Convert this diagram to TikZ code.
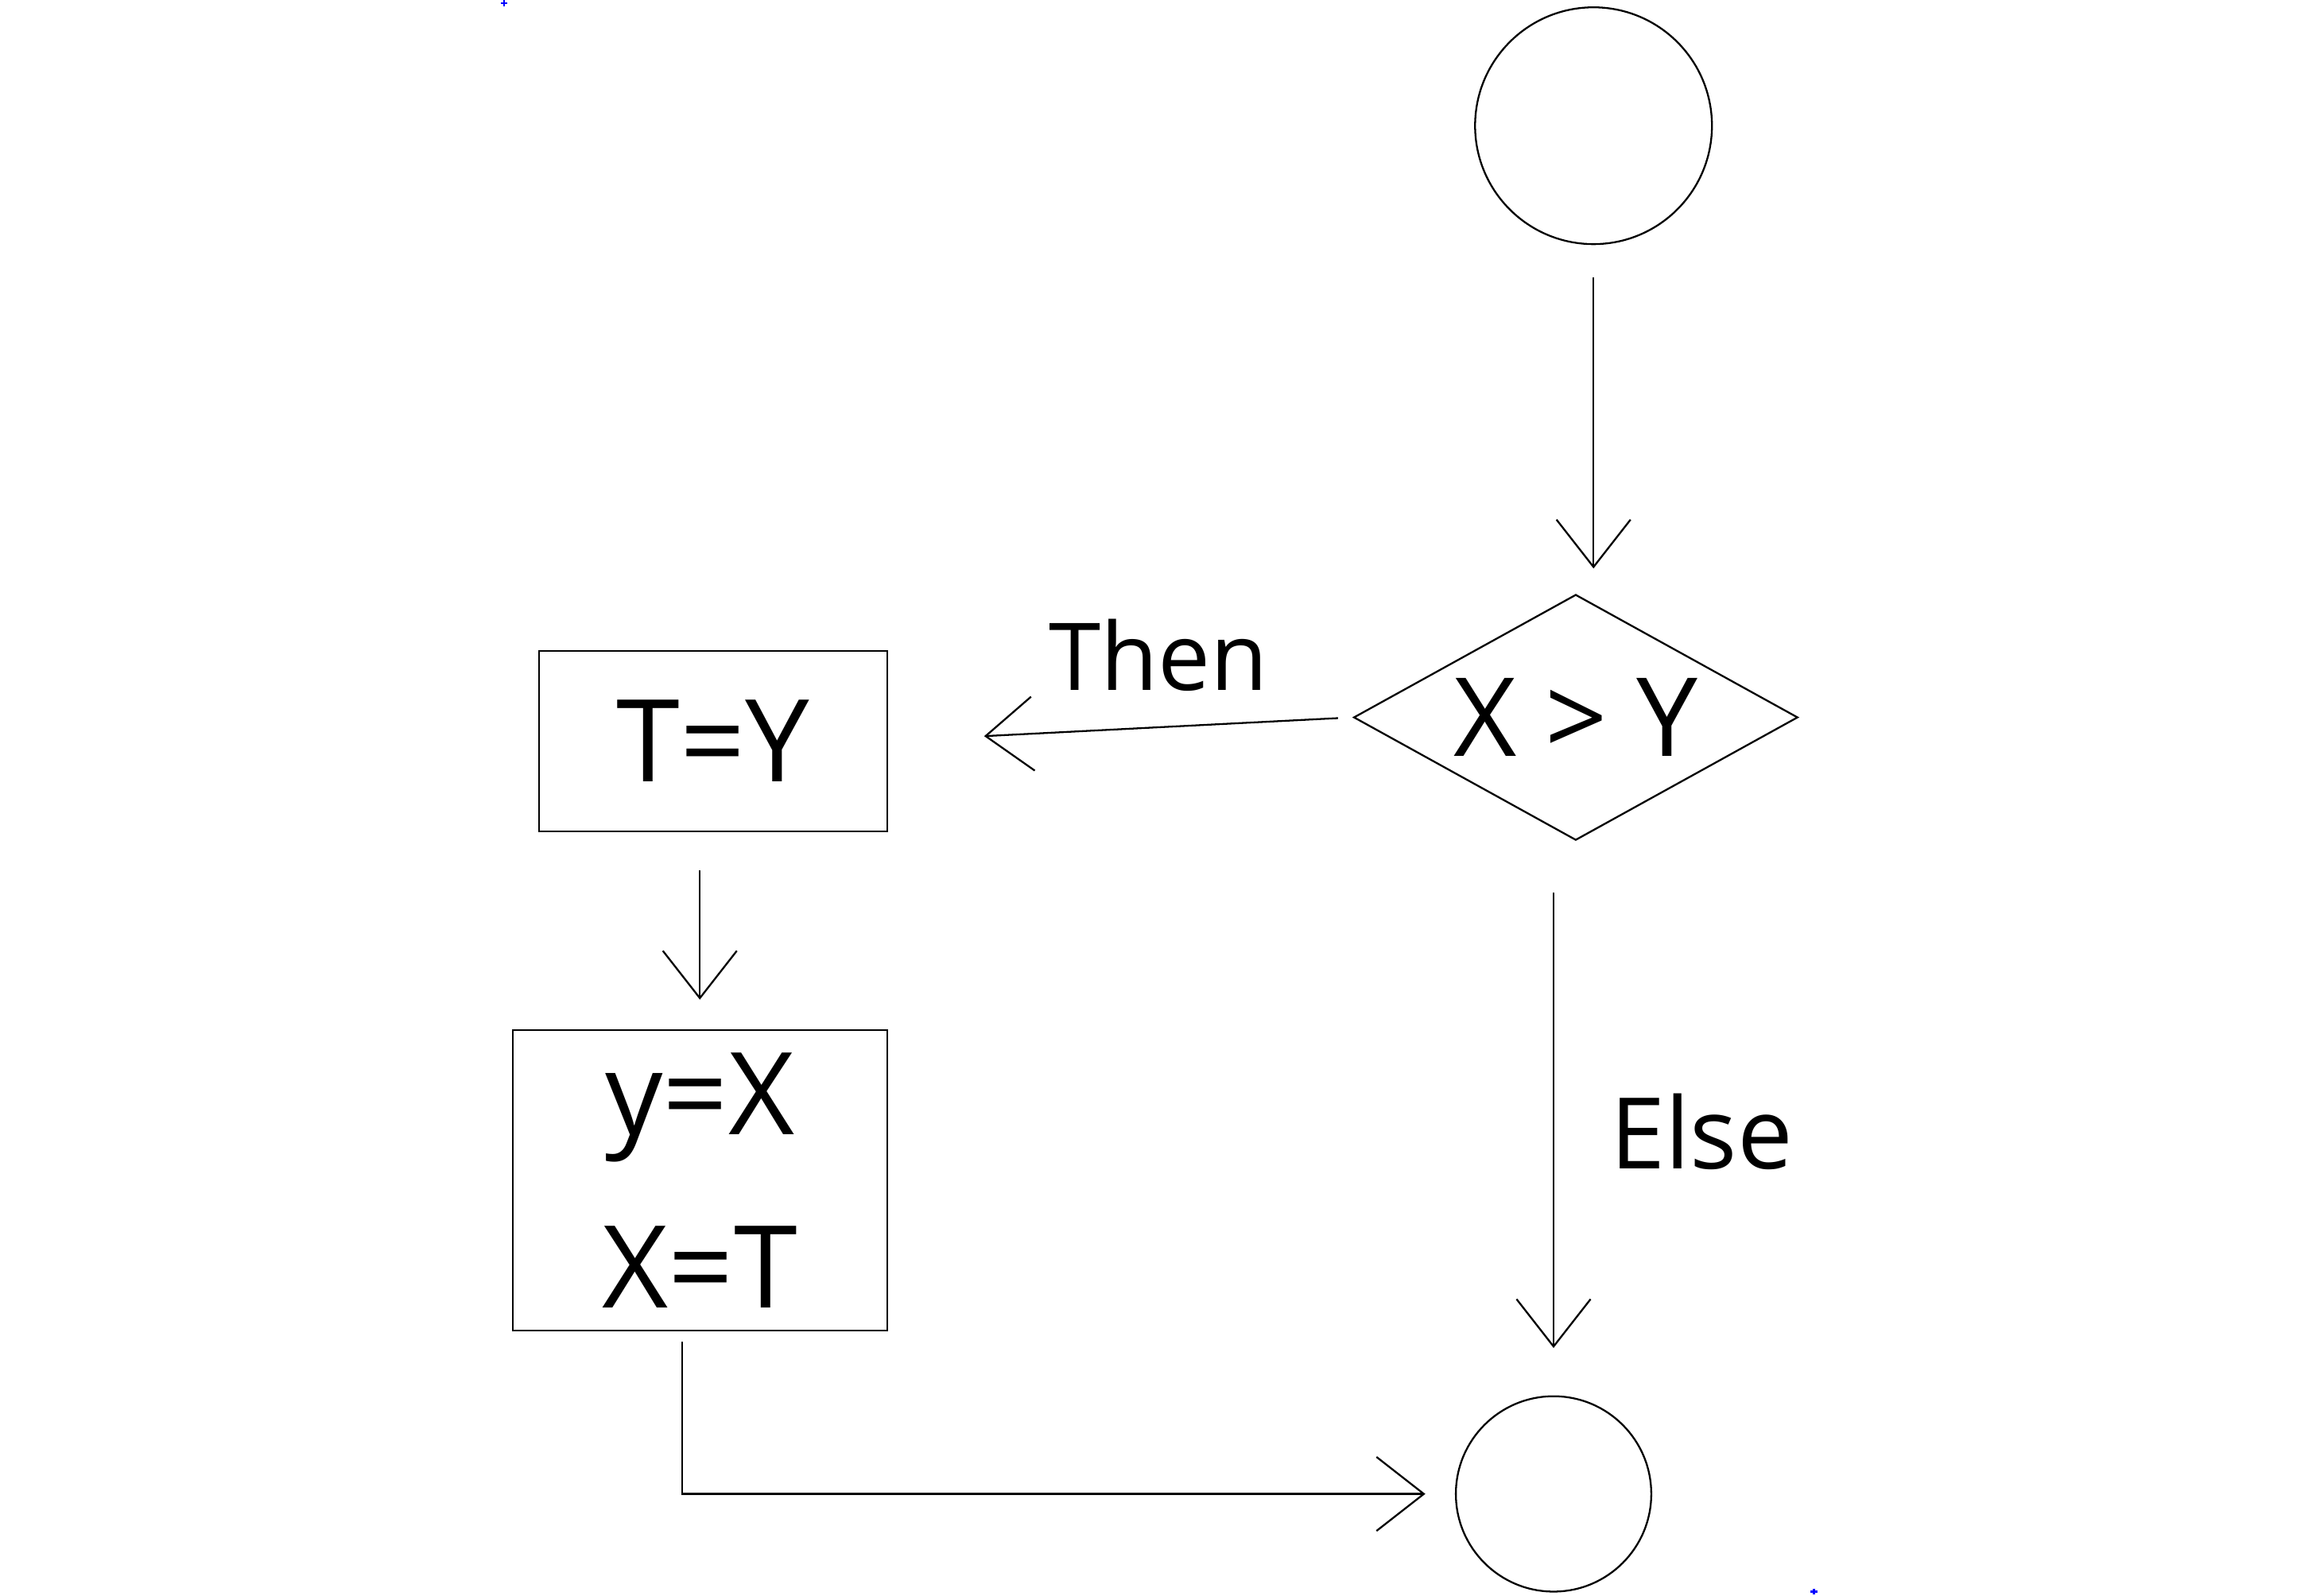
\documentclass[tikz,border=0pt]{standalone}
\usepackage{fontspec}
\setmainfont{Open Sans}
\usetikzlibrary{shapes.geometric,arrows.meta}
\begin{document}
\begin{tikzpicture}[x=0.01cm,y=-0.01cm,
  ln/.style={line width=0.35pt, black},
  arr/.style={ln, -{Straight Barb[length=3.2mm,width=5mm]}},
  boxn/.style={ln, draw, rectangle, inner sep=0pt},
  circ/.style={ln, draw, circle, inner sep=0pt},
  lab/.style={font=\fontsize{18}{21}\selectfont, inner sep=0pt},
  big/.style={font=\fontsize{22}{26}\selectfont},
  cornermark/.style={blue, line width=0.4pt}]
\useasboundingbox (0,0) rectangle (1568,1079);
% corner marks
\draw[cornermark] (338.5,2.2) -- (342.9,2.2) (340.7,0.2) -- (340.7,4.2);
\draw[cornermark] (1223.8,1076) -- (1228.2,1076) (1226,1074) -- (1226,1078);
% nodes
\node[circ, minimum size=1.6cm] (c1) at (1077,85) {};
\node[ln, draw, diamond, inner sep=0pt, shape aspect=1.8, minimum width=3cm, minimum height=1.66cm] (dia) at (1065,485) {};
\node[font=\fontsize{21}{25}\selectfont, inner sep=0pt] (diatext) at (dia.center) {X > Y};
\node[boxn, minimum width=2.35cm, minimum height=1.22cm, big] (b1) at (482,501) {T=Y};
\node[boxn, minimum width=2.53cm, minimum height=2.03cm, big, align=center] (b2) at (473,798) {y=X\\[2.6mm]X=T};
\node[circ, minimum size=1.32cm] (c2) at (1050,1010) {};
% connectors
\coordinate (toptip) at (c1.south |- dia.north);
\draw[arr, shorten <=2.2mm, shorten >=1.7mm] (c1.south) -- (toptip);
\draw[arr, shorten <=1mm, shorten >=6.5mm] (dia.west) -- (b1.east);
\node[lab] (then) at (783,443) {Then};
\coordinate (b1out) at (b1.south -| b2.north);
\draw[arr, shorten <=2.6mm, shorten >=2mm] (b1out) -- (b2.north);
\coordinate (elsestart) at (dia.south -| c2.north);
\draw[arr, shorten <=3.5mm, shorten >=3.2mm] (elsestart) -- (c2.north);
\node[lab, font=\fontsize{19}{22}\selectfont] (else) at (1150,765) {Else};
\coordinate (b2out) at ([xshift=-0.12cm]b2.south);
\coordinate (bend) at (b2out |- c2.west);
\draw[arr, shorten <=0.7mm, shorten >=2mm] (b2out) -- (bend) -- (c2.west);
\end{tikzpicture}
\end{document}
